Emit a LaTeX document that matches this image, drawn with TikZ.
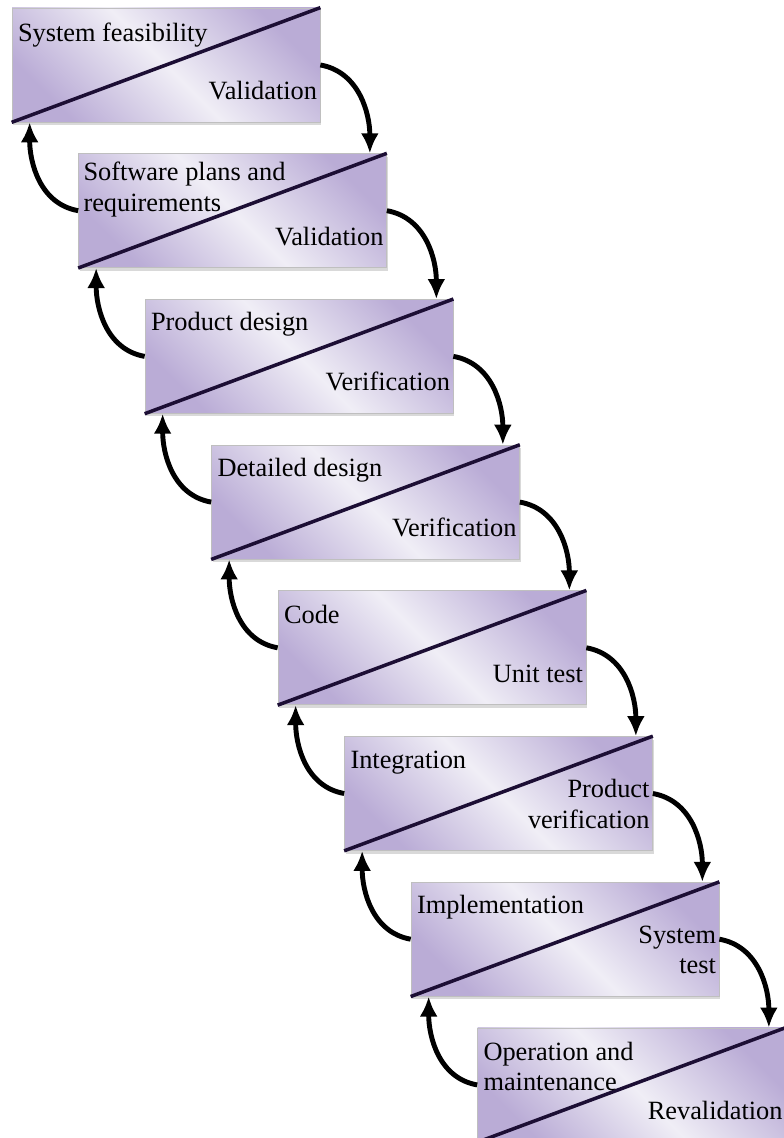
\documentclass[tikz,border=0pt]{standalone}
\usepackage{fontspec}
\setmainfont{Liberation Serif}
\usepackage{xcolor}
\usepackage{tikz}
\usetikzlibrary{arrows.meta,positioning,shadows}
\definecolor{stagedark}{RGB}{186,172,214}
\definecolor{stagelight}{RGB}{240,238,246}
\definecolor{diagink}{RGB}{28,14,52}
\tikzset{
  >={Latex[length=4mm,width=3.6mm]},
  stage/.style={rectangle, draw=black!25, thin, minimum width=6.16cm, minimum height=2.28cm,
    left color=stagedark, right color=stagedark, middle color=stagelight, shading angle=135,
    drop shadow={shadow xshift=0.02cm, shadow yshift=-0.06cm, opacity=0.3}},
  diag/.style={draw=diagink, line width=2pt},
  toptext/.style={anchor=north west, inner sep=0pt, align=left, font=\fontsize{15}{17.5}\selectfont},
  bottext/.style={anchor=south east, inner sep=0pt, align=right, font=\fontsize{15}{17.5}\selectfont},
  fwd/.style={->, line width=2.8pt},
  ret/.style={->, line width=2.8pt},
}

\begin{document}
\begin{tikzpicture}
  \useasboundingbox (0,0) rectangle (15.66,22.76);

  % stages
  \node[stage] (feas) at (3.32,21.46) {};
  \node[stage, below=0.62cm of feas, xshift=1.33cm]  (plans) {};
  \node[stage, below=0.62cm of plans, xshift=1.33cm] (prod)  {};
  \node[stage, below=0.62cm of prod, xshift=1.33cm]  (det)   {};
  \node[stage, below=0.62cm of det, xshift=1.33cm]   (code)  {};
  \node[stage, below=0.62cm of code, xshift=1.33cm]  (integ) {};
  \node[stage, below=0.62cm of integ, xshift=1.33cm] (impl)  {};
  \node[stage, below=0.62cm of impl, xshift=1.33cm]  (oper)  {};

  % diagonals
  \draw[diag] (feas.south west)  -- (feas.north east);
  \draw[diag] (plans.south west) -- (plans.north east);
  \draw[diag] (prod.south west)  -- (prod.north east);
  \draw[diag] (det.south west)   -- (det.north east);
  \draw[diag] (code.south west)  -- (code.north east);
  \draw[diag] (integ.south west) -- (integ.north east);
  \draw[diag] (impl.south west)  -- (impl.north east);
  \draw[diag] (oper.south west)  -- (oper.north east);

  % upper texts
  \node[toptext] (feas-t)  at ([shift={(0.12,-0.3)}]feas.north west)   {System feasibility};
  \node[toptext] (plans-t) at ([shift={(0.1,-0.17)}]plans.north west)  {Software plans and\\requirements};
  \node[toptext] (prod-t)  at ([shift={(0.12,-0.26)}]prod.north west)  {Product design};
  \node[toptext] (det-t)   at ([shift={(0.12,-0.26)}]det.north west)   {Detailed design};
  \node[toptext] (code-t)  at ([shift={(0.12,-0.28)}]code.north west)  {Code};
  \node[toptext] (integ-t) at ([shift={(0.12,-0.3)}]integ.north west)  {Integration};
  \node[toptext] (impl-t)  at ([shift={(0.12,-0.26)}]impl.north west)  {Implementation};
  \node[toptext] (oper-t)  at ([shift={(0.12,-0.28)}]oper.north west)  {Operation and\\maintenance};

  % lower texts
  \node[bottext] (feas-b)  at ([shift={(-0.06,0.44)}]feas.south east)  {Validation};
  \node[bottext] (plans-b) at ([shift={(-0.06,0.44)}]plans.south east) {Validation};
  \node[bottext] (prod-b)  at ([shift={(-0.06,0.44)}]prod.south east)  {Verification};
  \node[bottext] (det-b)   at ([shift={(-0.06,0.44)}]det.south east)   {Verification};
  \node[bottext] (code-b)  at ([shift={(-0.06,0.44)}]code.south east)  {Unit test};
  \node[bottext] (integ-b) at ([shift={(-0.06,0.44)}]integ.south east) {Product\\verification};
  \node[bottext] (impl-b)  at ([shift={(-0.06,0.44)}]impl.south east)  {System\\test};
  \node[bottext] (oper-b)  at ([shift={(-0.06,0.44)}]oper.south east)  {Revalidation};

  % forward arrows
  \draw[fwd] (feas.east)  to[out=-10,in=90] ([xshift=-0.34cm]plans.north east);
  \draw[fwd] (plans.east) to[out=-10,in=90] ([xshift=-0.34cm]prod.north east);
  \draw[fwd] (prod.east)  to[out=-10,in=90] ([xshift=-0.34cm]det.north east);
  \draw[fwd] (det.east)   to[out=-10,in=90] ([xshift=-0.34cm]code.north east);
  \draw[fwd] (code.east)  to[out=-10,in=90] ([xshift=-0.34cm]integ.north east);
  \draw[fwd] (integ.east) to[out=-10,in=90] ([xshift=-0.34cm]impl.north east);
  \draw[fwd] (impl.east)  to[out=-10,in=90] ([xshift=-0.34cm]oper.north east);

  % return arrows
  \draw[ret] (plans.west) to[out=170,in=-90] ([xshift=0.36cm]feas.south west);
  \draw[ret] (prod.west)  to[out=170,in=-90] ([xshift=0.36cm]plans.south west);
  \draw[ret] (det.west)   to[out=170,in=-90] ([xshift=0.36cm]prod.south west);
  \draw[ret] (code.west)  to[out=170,in=-90] ([xshift=0.36cm]det.south west);
  \draw[ret] (integ.west) to[out=170,in=-90] ([xshift=0.36cm]code.south west);
  \draw[ret] (impl.west)  to[out=170,in=-90] ([xshift=0.36cm]integ.south west);
  \draw[ret] (oper.west)  to[out=170,in=-90] ([xshift=0.36cm]impl.south west);
\end{tikzpicture}
\end{document}
